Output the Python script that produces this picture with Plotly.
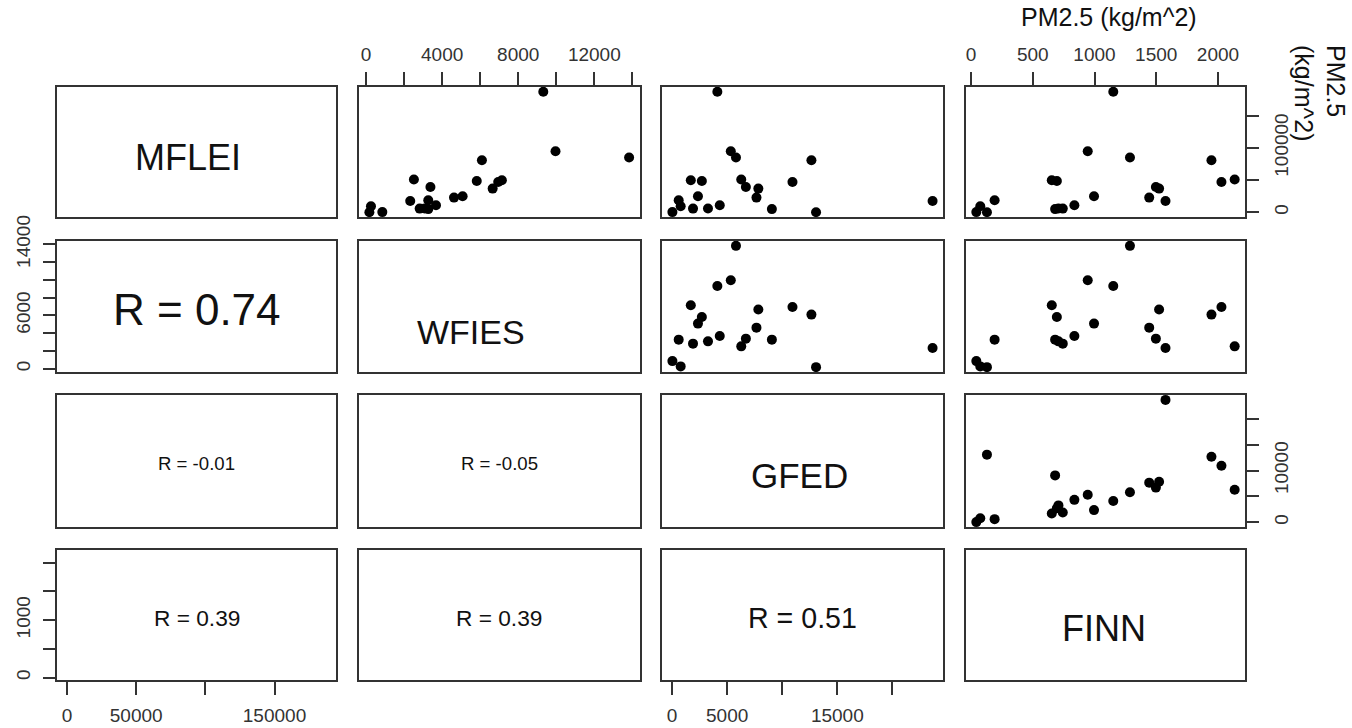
import plotly.graph_objects as go

# Variables of the scatterplot matrix (order of rows / columns)
variables = ["MFLEI", "WFIES", "GFED", "FINN"]

# PM2.5 emission totals for each inventory, one value per region
mflei = [300, 9300, 200, 18600, 49700, 5000, 48500, 6000, 5745, 10870, 94700,
         24800, 187000, 85000, 22800, 39300, 36800, 17500, 80700, 47050, 50800]
wfies = [857, 259, 176, 3271, 7140, 3271, 5820, 3079, 2820, 3677, 9959,
         5076, 9317, 13828, 4624, 3384, 6655, 2323, 6091, 6948, 2515]
gfed = [30, 780, 13070, 600, 1700, 9060, 2703, 3260, 1900, 4330, 5330,
        2350, 4110, 5800, 7660, 6700, 7830, 23650, 12650, 10930, 6280]
finn = [43, 75, 129, 191, 654, 681, 695, 708, 743, 837, 945,
        996, 1152, 1287, 1443, 1497, 1523, 1575, 1947, 2028, 2135]

series = [mflei, wfies, gfed, finn]

# Correlation labels of the lower panels, keyed by (row, column)
r_labels = {
    (1, 0): "R = 0.74",
    (2, 0): "R = -0.01",
    (2, 1): "R = -0.05",
    (3, 0): "R = 0.39",
    (3, 1): "R = 0.39",
    (3, 2): "R = 0.51",
}

# Tick positions and the labels printed at them
mflei_ticks = [0, 50000, 100000, 150000]
mflei_right_labels = ["0", "", "100000", ""]
mflei_bottom_labels = ["0", "50000", "", "150000"]
wfies_ticks = [0, 2000, 4000, 6000, 8000, 10000, 12000, 14000]
wfies_top_labels = ["0", "", "4000", "", "8000", "", "12000", ""]
wfies_left_labels = ["0", "", "", "6000", "", "", "", "14000"]
gfed_ticks = [0, 5000, 10000, 15000, 20000]
gfed_right_labels = ["0", "", "10000", "", ""]
gfed_bottom_labels = ["0", "5000", "", "15000", ""]
finn_ticks = [0, 500, 1000, 1500, 2000]
finn_top_labels = ["0", "500", "1000", "1500", "2000"]
finn_left_labels = ["0", "", "1000", "", ""]

unit_label = "PM2.5 (kg/m^2)"

# ---------------------------------------------------------------- layout
W, H = 1352, 728
col_px = [(57, 336), (359, 639.5), (662, 943), (966, 1245)]
row_px = [(87, 217), (241, 372), (395, 527), (550, 680)]

FONT = "Liberation Sans, Arial, sans-serif"
LINE = "#333333"
TICK_FONT = dict(family=FONT, size=19, color="#333333")

# style / placement (panel-domain fractions) of the names on the diagonal
diag_style = {0: dict(size=36, dx=0.468, dy=0.46),
              1: dict(size=34, dx=0.40, dy=0.305),
              2: dict(size=35, dx=0.491, dy=0.39),
              3: dict(size=36, dx=0.495, dy=0.40)}
r_sizes = {(1, 0): 44, (2, 0): 18.6, (2, 1): 18.6,
           (3, 0): 22.7, (3, 1): 22.7, (3, 2): 28.6}


def padded_range(vals):
    lo, hi = min(vals), max(vals)
    span = hi - lo
    return [lo - 0.04 * span, hi + 0.04 * span]


ranges = [padded_range(v) for v in series]

# axis definitions: (row, col) -> dict of tick settings
x_axes_spec = {
    (0, 1): dict(side="top", tickvals=wfies_ticks, ticktext=wfies_top_labels),
    (0, 3): dict(side="top", tickvals=finn_ticks, ticktext=finn_top_labels),
    (3, 0): dict(side="bottom", tickvals=mflei_ticks, ticktext=mflei_bottom_labels),
    (3, 2): dict(side="bottom", tickvals=gfed_ticks, ticktext=gfed_bottom_labels),
}
y_axes_spec = {
    (1, 0): dict(side="left", tickvals=wfies_ticks, ticktext=wfies_left_labels),
    (3, 0): dict(side="left", tickvals=finn_ticks, ticktext=finn_left_labels),
    (0, 3): dict(side="right", tickvals=mflei_ticks, ticktext=mflei_right_labels),
    (2, 3): dict(side="right", tickvals=gfed_ticks, ticktext=gfed_right_labels),
}

fig = go.Figure()
layout = dict(
    width=W, height=H, autosize=False,
    margin=dict(l=0, r=0, t=0, b=0, pad=0),
    paper_bgcolor="white", plot_bgcolor="white",
    showlegend=False,
    font=dict(family=FONT, color="#111111"),
)
annotations = []

for r in range(4):
    for c in range(4):
        k = r * 4 + c + 1
        xname = "xaxis" if k == 1 else f"xaxis{k}"
        yname = "yaxis" if k == 1 else f"yaxis{k}"
        xref = "x" if k == 1 else f"x{k}"
        yref = "y" if k == 1 else f"y{k}"

        x0, x1 = col_px[c]
        y0, y1 = row_px[r]
        xa = dict(domain=[x0 / W, x1 / W], range=ranges[c], anchor=yref,
                  showgrid=False, zeroline=False, showline=True, mirror=True,
                  linecolor=LINE, linewidth=1.8, fixedrange=True, automargin=False,
                  showticklabels=False, ticks="")
        ya = dict(domain=[1 - y1 / H, 1 - y0 / H], range=ranges[r], anchor=xref,
                  showgrid=False, zeroline=False, showline=True, mirror=True,
                  linecolor=LINE, linewidth=1.8, fixedrange=True, automargin=False,
                  showticklabels=False, ticks="")
        if (r, c) in x_axes_spec:
            spec = x_axes_spec[(r, c)]
            xa.update(spec, showticklabels=True, ticks="outside", ticklen=13,
                      tickwidth=1.6, tickcolor=LINE, tickmode="array",
                      tickfont=TICK_FONT, tickangle=0, ticklabelstandoff=4)
        if (r, c) in y_axes_spec:
            spec = y_axes_spec[(r, c)]
            ya.update(spec, showticklabels=True, ticks="outside", ticklen=12,
                      tickwidth=1.6, tickcolor=LINE, tickmode="array",
                      tickfont=TICK_FONT, tickangle=-90, ticklabelstandoff=6)
        layout[xname] = xa
        layout[yname] = ya

        if c > r:
            # upper panels: scatter of column variable against row variable
            fig.add_trace(go.Scatter(
                x=series[c], y=series[r], mode="markers", xaxis=xref, yaxis=yref,
                marker=dict(size=10, color="black", line=dict(width=0)),
                hoverinfo="skip", cliponaxis=False))
        else:
            # empty trace so the panel frame is drawn
            fig.add_trace(go.Scatter(x=[], y=[], mode="markers",
                                     xaxis=xref, yaxis=yref, hoverinfo="skip"))
            if c == r:
                st = diag_style[r]
                annotations.append(dict(
                    text=variables[r], xref=f"{xref} domain", yref=f"{yref} domain",
                    x=st["dx"], y=st["dy"], showarrow=False, xanchor="center",
                    yanchor="middle",
                    font=dict(family=FONT, size=st["size"], color="#111111")))
            else:
                annotations.append(dict(
                    text=r_labels[(r, c)], xref=f"{xref} domain",
                    yref=f"{yref} domain", x=0.5, y=0.48, showarrow=False,
                    xanchor="center", yanchor="middle",
                    font=dict(family=FONT, size=r_sizes[(r, c)], color="#111111")))

# unit titles for the FINN axis on top and the MFLEI axis on the right
annotations.append(dict(
    text=unit_label, xref="paper", yref="paper", x=1109 / W, y=1 - 17 / H,
    showarrow=False, xanchor="center", yanchor="middle",
    font=dict(family=FONT, size=25, color="#111111")))
annotations.append(dict(
    text=unit_label.replace(" ", "<br>"), xref="paper", yref="paper",
    x=1320 / W, y=1 - 93 / H, showarrow=False, textangle=90, align="left",
    xanchor="center", yanchor="middle",
    font=dict(family=FONT, size=25, color="#111111")))

layout["annotations"] = annotations
fig.update_layout(**layout)
fig.write_html("out.html")
